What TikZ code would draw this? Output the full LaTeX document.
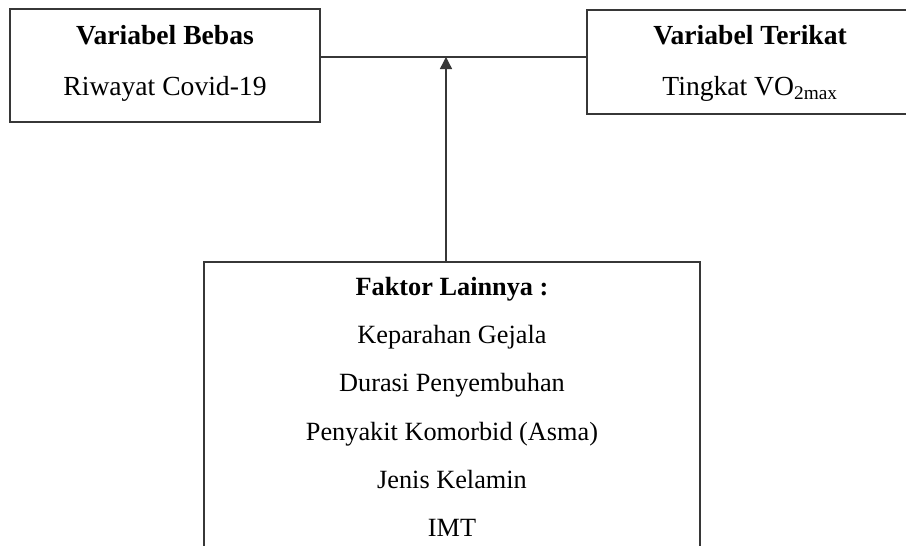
\documentclass[tikz,border=0pt]{standalone}
\usepackage{fontspec}
\setmainfont{Liberation Serif}
\usetikzlibrary{arrows.meta}
\definecolor{ln}{RGB}{55,55,55}
\tikzset{
  box/.style={draw=ln, line width=1.5pt, inner sep=0pt, outer sep=0pt},
  txtop/.style={anchor=base, inner sep=0pt, font=\fontsize{27.6}{32}\selectfont},
  txbot/.style={anchor=base, inner sep=0pt, font=\fontsize{26.3}{32}\selectfont},
  conn/.style={draw=ln, line width=1.4pt}
}
\begin{document}
\begin{tikzpicture}[x=1pt,y=-1pt]
\useasboundingbox (0,0) rectangle (906,546);
\clip (0,0) rectangle (906,546);
\fill[white] (0,0) rectangle (906,546);
% boxes
\node[box, minimum width=310pt, minimum height=113pt] (L) at (165,65.5) {};
\node[box, minimum width=326pt, minimum height=104pt] (R) at (750,62) {};
\node[box, minimum width=496pt, minimum height=300pt] (B) at (452,412) {};
% texts
\node[txtop] (l1) at (165,44) {\bfseries Variabel Bebas};
\node[txtop] (l2) at (165,95) {Riwayat Covid-19};
\node[txtop] (r1) at (750,45) {\bfseries Variabel Terikat};
\node[txtop] (r2) at (750,95) {Tingkat VO\textsubscript{2max}};
\node[txbot] (b1) at (452,295) {\bfseries Faktor Lainnya :};
\node[txbot] (b2) at (452,343) {Keparahan Gejala};
\node[txbot] (b3) at (452,391.5) {Durasi Penyembuhan};
\node[txbot] (b4) at (452,440) {Penyakit Komorbid (Asma)};
\node[txbot] (b5) at (452,488) {Jenis Kelamin};
\node[txbot] (b6) at (452,536) {IMT};
% connectors
\coordinate (j) at (446,57);
\draw[conn] (L.east |- j) -- (R.west |- j);
\draw[conn, -{Triangle[length=12pt,width=12pt]}] (B.north -| j) -- (j);
\end{tikzpicture}
\end{document}
